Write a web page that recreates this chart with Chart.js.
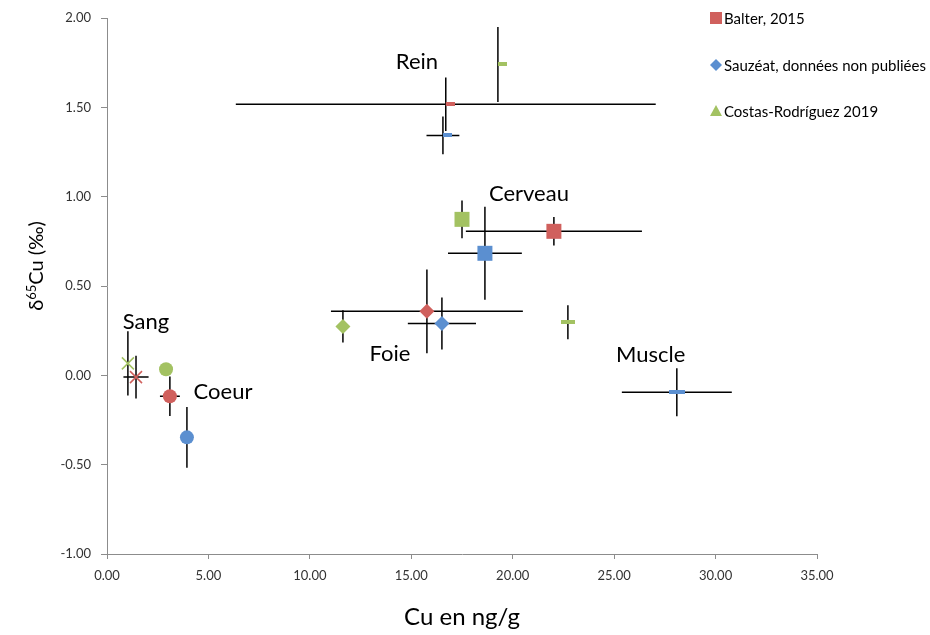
<!DOCTYPE html>
<html><head><meta charset="utf-8">
<script src="https://cdn.jsdelivr.net/npm/chart.js@4.4.0/dist/chart.umd.min.js"></script>
<style>html,body{margin:0;padding:0;background:#fff}#wrap{width:930px;height:635px}</style>
</head><body><div id="wrap"><canvas id="c" width="930" height="635"></canvas></div>
<script>
// ---------- data ----------
const seriesNames = ['Balter, 2015', 'Sauzéat, données non publiées', 'Costas-Rodríguez 2019'];
const xTicks = [0, 5, 10, 15, 20, 25, 30, 35];
const yTicks = [-1, -0.5, 0, 0.5, 1, 1.5, 2];

const tissueLabels = ['Sang', 'Coeur', 'Foie', 'Cerveau', 'Rein', 'Muscle'];
const tissueLabelX = [1.92, 5.72, 13.95, 20.8, 15.28, 26.8];
const tissueLabelY = [0.30, -0.09, 0.118, 1.018, 1.757, 0.112];

const balterTissue = ['Sang', 'Coeur', 'Foie', 'Cerveau', 'Rein'];
const balterX = [1.43, 3.10, 15.77, 22.03, 16.70];
const balterY = [-0.01, -0.117, 0.358, 0.806, 1.517];
const balterXErr = [0.62, 0.49, 4.73, 4.34, 10.35];
const balterYErr = [0.12, 0.11, 0.235, 0.08, 0.15];

const sauzeatTissue = ['Coeur', 'Foie', 'Cerveau', 'Rein', 'Muscle'];
const sauzeatX = [3.94, 16.51, 18.63, 16.56, 28.09];
const sauzeatY = [-0.347, 0.29, 0.683, 1.343, -0.095];
const sauzeatXErr = [0, 1.68, 1.82, 0.81, 2.71];
const sauzeatYErr = [0.17, 0.145, 0.26, 0.106, 0.134];

const costasTissue = ['Sang', 'Coeur', 'Foie', 'Cerveau', 'Rein', 'Muscle'];
const costasX = [1.03, 2.91, 11.63, 17.50, 19.27, 22.72];
const costasY = [0.067, 0.034, 0.274, 0.873, 1.74, 0.297];
const costasXErr = [0, 0, 0, 0, 0, 0];
const costasYErr = [0.18, 0, 0.09, 0.106, 0.21, 0.095];

// ---------- styles ----------
const colors = ['#d0605d', '#5b8fd0', '#a3c262'];
const FONT = 'Lato, "Open Sans", sans-serif';

function dashCanvas(color, len, thick, offsetRight) {
  const c = document.createElement('canvas');
  c.width = offsetRight ? len * 2 : len;
  c.height = thick;
  const g = c.getContext('2d');
  g.fillStyle = color;
  g.fillRect(offsetRight ? len : 0, 0, len, thick);
  return c;
}
function styleFor(tissue, si) {
  const col = colors[si];
  switch (tissue) {
    case 'Sang': return {s: 'crossRot', r: 8.5};
    case 'Coeur': return {s: 'circle', r: 7};
    case 'Foie': return {s: 'rectRot', r: 7.5};
    case 'Cerveau': return {s: 'rect', r: 10.6};
    case 'Rein': return {s: dashCanvas(col, 9, 4, true), r: 5};
    case 'Muscle': return {s: dashCanvas(col, si === 1 ? 16 : 14, 4, false), r: 8};
  }
}
function makeDataset(name, si, tissues, xs, ys, xe, ye) {
  const st = tissues.map(t => styleFor(t, si));
  return {
    label: name,
    data: xs.map((x, i) => ({x: x, y: ys[i], xe: xe[i], ye: ye[i]})),
    pointStyle: st.map(o => o.s),
    pointRadius: st.map(o => o.r),
    backgroundColor: colors[si],
    borderColor: colors[si],
    pointBorderWidth: tissues.map(t => t === 'Sang' ? 1.5 : 0),
    showLine: false
  };
}
const datasets = [
  makeDataset(seriesNames[0], 0, balterTissue, balterX, balterY, balterXErr, balterYErr),
  makeDataset(seriesNames[1], 1, sauzeatTissue, sauzeatX, sauzeatY, sauzeatXErr, sauzeatYErr),
  makeDataset(seriesNames[2], 2, costasTissue, costasX, costasY, costasXErr, costasYErr)
];

// ---------- plugins ----------
const errorBars = {
  id: 'errorBars',
  beforeDatasetsDraw(chart) {
    const ctx = chart.ctx, xs = chart.scales.x, ys = chart.scales.y;
    ctx.save();
    ctx.strokeStyle = '#000';
    ctx.lineWidth = 1.5;
    chart.data.datasets.forEach(ds => {
      ds.data.forEach(p => {
        const px = xs.getPixelForValue(p.x), py = ys.getPixelForValue(p.y);
        ctx.beginPath();
        if (p.xe) {
          ctx.moveTo(xs.getPixelForValue(p.x - p.xe), py);
          ctx.lineTo(xs.getPixelForValue(p.x + p.xe), py);
        }
        if (p.ye) {
          ctx.moveTo(px, ys.getPixelForValue(p.y + p.ye));
          ctx.lineTo(px, ys.getPixelForValue(p.y - p.ye));
        }
        ctx.stroke();
      });
    });
    ctx.restore();
  }
};

const annotations = {
  id: 'annotations',
  afterDraw(chart) {
    const ctx = chart.ctx, xs = chart.scales.x, ys = chart.scales.y;
    ctx.save();
    ctx.fillStyle = '#000';
    ctx.textAlign = 'center';
    ctx.textBaseline = 'middle';
    ctx.font = '22px ' + FONT;
    tissueLabels.forEach((t, i) => {
      ctx.fillText(t, xs.getPixelForValue(tissueLabelX[i]), ys.getPixelForValue(tissueLabelY[i]));
    });

    // y-axis title with superscript
    ctx.translate(36, 266);
    ctx.rotate(-Math.PI / 2);
    const big = '20px ' + FONT, small = '13px ' + FONT;
    ctx.textAlign = 'left';
    ctx.textBaseline = 'alphabetic';
    ctx.font = big; const w1 = ctx.measureText('δ').width;
    ctx.font = small; const w2 = ctx.measureText('65').width;
    ctx.font = big; const w3 = ctx.measureText('Cu (‰)').width;
    let x0 = -(w1 + w2 + w3) / 2;
    const base = 7;
    ctx.font = big; ctx.fillText('δ', x0, base); x0 += w1;
    ctx.font = small; ctx.fillText('65', x0, base - 7); x0 += w2;
    ctx.font = big; ctx.fillText('Cu (‰)', x0, base);
    ctx.restore();

    // legend
    ctx.save();
    const ly = [18, 65, 111];
    ctx.font = '15px ' + FONT;
    ctx.textBaseline = 'middle';
    ctx.textAlign = 'left';
    seriesNames.forEach((n, i) => {
      const cx = 716, cy = ly[i];
      ctx.fillStyle = colors[i];
      ctx.beginPath();
      if (i === 0) ctx.rect(cx - 6, cy - 6, 12, 12);
      else if (i === 1) { ctx.moveTo(cx, cy - 6); ctx.lineTo(cx + 6, cy); ctx.lineTo(cx, cy + 6); ctx.lineTo(cx - 6, cy); ctx.closePath(); }
      else { ctx.moveTo(cx, cy - 6); ctx.lineTo(cx + 6, cy + 5); ctx.lineTo(cx - 6, cy + 5); ctx.closePath(); }
      ctx.fill();
      ctx.fillStyle = '#000';
      ctx.fillText(n, 724, cy + 1);
    });
    ctx.restore();
  }
};

new Chart(document.getElementById('c'), {
  type: 'scatter',
  data: {datasets: datasets},
  options: {
    responsive: false,
    animation: false,
    layout: {padding: {top: 18, right: 113, left: 0, bottom: 0}},
    scales: {
      x: {
        type: 'linear', min: 0, max: 35,
        afterBuildTicks(s) { s.ticks = xTicks.map(v => ({value: v})); },
        ticks: {callback: v => Number(v).toFixed(2), font: {family: FONT, size: 13}, color: '#333', padding: 9, maxRotation: 0},
        grid: {drawOnChartArea: false, drawTicks: true, tickLength: 5, color: '#8c8c8c'},
        border: {color: '#8c8c8c', width: 1},
        title: {display: true, text: 'Cu en ng/g', font: {family: FONT, size: 24}, color: '#000', padding: {top: 0, bottom: 3}},
        afterFit(s) { s.height = 81; }
      },
      y: {
        type: 'linear', min: -1, max: 2,
        afterBuildTicks(s) { s.ticks = yTicks.map(v => ({value: v})); },
        ticks: {callback: v => Number(v).toFixed(2), font: {family: FONT, size: 13}, color: '#333', padding: 10},
        grid: {drawOnChartArea: false, drawTicks: true, tickLength: 6, color: '#8c8c8c'},
        border: {color: '#8c8c8c', width: 1},
        afterFit(s) { s.width = 107; }
      }
    },
    plugins: {legend: {display: false}, tooltip: {enabled: false}}
  },
  plugins: [errorBars, annotations]
});
</script>
</body></html>
